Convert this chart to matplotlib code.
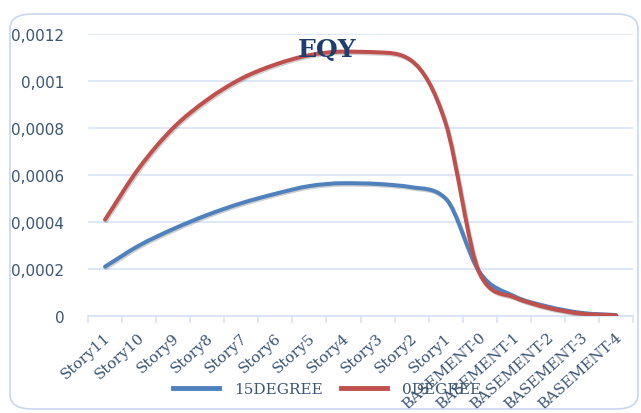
import numpy as np
import matplotlib
matplotlib.use('Agg')
import matplotlib.pyplot as plt
from matplotlib.path import Path
from matplotlib.patches import PathPatch, FancyBboxPatch
from matplotlib.lines import Line2D
from matplotlib import patheffects as pe
from matplotlib.transforms import ScaledTranslation
from matplotlib.ticker import FuncFormatter, FixedLocator

stories = ['Story11', 'Story10', 'Story9', 'Story8', 'Story7', 'Story6', 'Story5',
           'Story4', 'Story3', 'Story2', 'Story1', 'BASEMENT-0', 'BASEMENT-1',
           'BASEMENT-2', 'BASEMENT-3', 'BASEMENT-4']
deg15 = [0.00021, 0.0003, 0.00037, 0.00043, 0.00048, 0.00052, 0.000553,
         0.000565, 0.000562, 0.000548, 0.0005, 0.000185, 0.000085,
         0.00004, 0.000013, 0.000004]
deg0 = [0.00041, 0.00063, 0.0008, 0.00092, 0.00101, 0.00107, 0.00111,
        0.001125, 0.001122, 0.001086, 0.00082, 0.00018, 0.00008,
        0.000035, 0.00001, 0.000003]

BLUE = '#4F81BD'
RED = '#C0504D'
TXT = '#3B5575'
GRID = '#D7E3F4'


def smooth_path(xs, ys):
    # cubic Bezier segments, Fritsch-Carlson tangents so nothing overshoots
    xs = np.asarray(xs, float)
    ys = np.asarray(ys, float)
    h = np.diff(xs)
    d = np.diff(ys) / h
    m = np.zeros_like(ys)
    m[0], m[-1] = d[0], d[-1]
    for i in range(1, len(ys) - 1):
        if d[i - 1] * d[i] > 0:
            m[i] = (d[i - 1] + d[i]) / 2
    for i in range(len(d)):
        if d[i] == 0:
            m[i] = m[i + 1] = 0
            continue
        a, b = m[i] / d[i], m[i + 1] / d[i]
        s = a * a + b * b
        if s > 9:
            t = 3 / np.sqrt(s)
            m[i], m[i + 1] = t * a * d[i], t * b * d[i]
    verts = [(xs[0], ys[0])]
    codes = [Path.MOVETO]
    for i in range(len(xs) - 1):
        verts += [(xs[i] + h[i] / 3, ys[i] + m[i] * h[i] / 3),
                  (xs[i + 1] - h[i] / 3, ys[i + 1] - m[i + 1] * h[i] / 3),
                  (xs[i + 1], ys[i + 1])]
        codes += [Path.CURVE4] * 3
    return Path(verts, codes)


fig = plt.figure(figsize=(6.41, 4.14), dpi=100)
fig.patch.set_facecolor('white')

# rounded chart frame
frame = FancyBboxPatch((10 / 641, 4 / 414), 628 / 641, 395 / 414,
                       boxstyle='round,pad=0,rounding_size=0.035',
                       transform=fig.transFigure, facecolor='none',
                       edgecolor='#C9D8EC', linewidth=1.2, zorder=0)
fig.patches.append(frame)

ax = fig.add_axes([88 / 641, 97 / 414, 545 / 641, 282 / 414])
x = np.arange(len(stories))
ax.set_xlim(-0.5, len(stories) - 0.5)
ax.set_ylim(0, 0.0012)

shadow = [pe.SimpleLineShadow(offset=(0.8, -1.0), shadow_color='#444444', alpha=0.25),
          pe.Normal()]
for vals, col in [(deg15, BLUE), (deg0, RED)]:
    patch = PathPatch(smooth_path(x, vals), facecolor='none', edgecolor=col,
                      linewidth=2.9, capstyle='round', joinstyle='round', zorder=3)
    patch.set_path_effects(shadow)
    ax.add_patch(patch)

for s in ['top', 'right', 'left']:
    ax.spines[s].set_visible(False)
ax.spines['bottom'].set_color(GRID)
ax.spines['bottom'].set_linewidth(1.2)

ax.set_yticks(np.arange(0, 0.00121, 0.0002))
ax.yaxis.set_major_formatter(FuncFormatter(lambda v, p: ('%g' % round(v, 6)).replace('.', ',')))
ax.tick_params(axis='y', length=0, pad=17, labelsize=11, labelcolor=TXT)
ax.grid(axis='y', color=GRID, linewidth=1.2)
ax.set_axisbelow(True)

ax.set_xticks(x)
ax.set_xticklabels(stories, rotation=42, ha='right', va='top',
                   rotation_mode='anchor', family='DejaVu Serif',
                   fontsize=11, color=TXT)
ax.tick_params(axis='x', which='major', length=0, pad=10)
ax.xaxis.set_minor_locator(FixedLocator(np.arange(-0.5, len(stories), 1.0)))
ax.tick_params(axis='x', which='minor', length=5, color=GRID, width=1.2)
for lbl in ax.get_xticklabels():
    lbl.set_transform(lbl.get_transform() + ScaledTranslation(-1 / 100, 0, fig.dpi_scale_trans))

fig.text(327 / 641, 1 - 50 / 414, 'EQY', ha='center', va='center',
         family='DejaVu Serif', fontweight='bold', fontsize=18, color='#1F3E6E', zorder=5)

handles = [Line2D([], [], color=BLUE, linewidth=3.5),
           Line2D([], [], color=RED, linewidth=3.5)]
leg = fig.legend(handles, ['15DEGREE', '0DEGREE'], loc='center',
                 bbox_to_anchor=(327 / 641, 1 - 390 / 414), ncol=2, frameon=False,
                 prop={'family': 'DejaVu Serif', 'size': 11},
                 handlelength=3.0, handletextpad=1.0, columnspacing=1.2)
for t in leg.get_texts():
    t.set_color(TXT)

fig.savefig('out.png', dpi=100)
